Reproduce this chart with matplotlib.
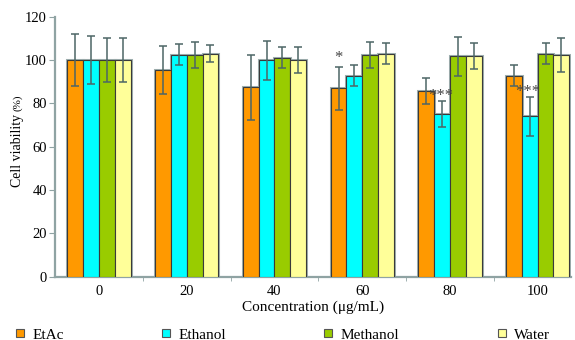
import matplotlib
matplotlib.use("Agg")
import matplotlib.pyplot as plt
from matplotlib.lines import Line2D
import numpy as np

plt.rcParams['font.family'] = ['Liberation Serif', 'DejaVu Serif']

concentrations = ['0', '20', '40', '60', '80', '100']
series = ['EtAc', 'Ethanol', 'Methanol', 'Water']
colors = ['#ff9900', '#00ffff', '#99cc00', '#ffff99']

means = {
    'EtAc':     [100, 95.4, 87.4, 86.9, 85.8, 92.8],
    'Ethanol':  [100, 102.5, 99.9, 92.8, 75.3, 74.0],
    'Methanol': [100, 102.5, 101.1, 102.5, 101.7, 103.0],
    'Water':    [100, 103.0, 100.2, 103.0, 101.7, 102.3],
}
errors = {
    'EtAc':     [12, 11, 15, 10, 6, 5],
    'Ethanol':  [11, 5, 9, 5, 6, 9],
    'Methanol': [10, 6, 5, 6, 9, 5],
    'Water':    [10, 4, 6, 5, 6, 8],
}
# significance marks: (series, concentration index, label)
marks = [('EtAc', 3, '*'), ('Ethanol', 4, '***'), ('Ethanol', 5, '***')]

fig = plt.figure(figsize=(5.75, 3.4), dpi=100)
ax = fig.add_axes([0.096, 0.186, 0.897, 0.765])

x = np.arange(len(concentrations))
w = 0.18
for i, name in enumerate(series):
    pos = x + (i - 1.5) * w
    # soft grey halo behind the dark outline
    ax.bar(pos, means[name], w, color=colors[i], edgecolor='#9fb0b0', linewidth=2.2, zorder=2)
    ax.bar(pos, means[name], w, color=colors[i], edgecolor='#3a3a3a', linewidth=0.8, zorder=3)
    ax.errorbar(pos, means[name], yerr=errors[name], fmt='none', ecolor='#4d6666',
                elinewidth=1.1, capsize=2.8, capthick=1.1, zorder=4)

for name, k, label in marks:
    i = series.index(name)
    xp = x[k] + (i - 1.5) * w
    if label == '*':
        ax.text(xp, means[name][k] + errors[name][k] + 0.5, label,
                ha='center', va='bottom', fontsize=12, color='#444444')
    else:
        # triple stars sit just left of the short error bar
        ax.text(xp - 0.02, means[name][k] + errors[name][k] - 1.5, label,
                ha='center', va='bottom', fontsize=12, color='#444444')

ax.set_xlim(-0.5, 5.38)
ax.set_ylim(0, 120)
ax.set_yticks(range(0, 121, 20))
ax.set_xticks(x)
ax.set_xticklabels(concentrations)
ax.set_xticks(np.arange(0.5, 5, 1), minor=True)
ax.tick_params(axis='x', which='major', length=0, pad=6, labelsize=10.5)
ax.tick_params(axis='x', which='minor', length=3, color='#8fa3a3')
ax.tick_params(axis='y', length=4, color='#8fa3a3', labelsize=10.5, pad=2)

for side in ['top', 'right']:
    ax.spines[side].set_visible(False)
for side in ['left', 'bottom']:
    ax.spines[side].set_color('#8fa3a3')
    ax.spines[side].set_linewidth(1.6)

ax.set_xlabel('Concentration (μg/mL)', fontsize=11, labelpad=2)
fig.text(0.031, 0.674, '(%)', rotation=90, ha='center', va='bottom', fontsize=8)
fig.text(0.031, 0.666, 'Cell viability', rotation=90, ha='center', va='top', fontsize=10)

handles = [Line2D([], [], linestyle='none', marker='s', markersize=6,
                  markerfacecolor=c, markeredgecolor='#555555', markeredgewidth=0.8)
           for c in colors]
fig.legend(handles, series, loc='lower left', bbox_to_anchor=(0.003, -0.045), ncol=4,
           frameon=False, fontsize=11, handlelength=0.6, handletextpad=0.5,
           columnspacing=6.4)

fig.savefig('out.png', dpi=100)
